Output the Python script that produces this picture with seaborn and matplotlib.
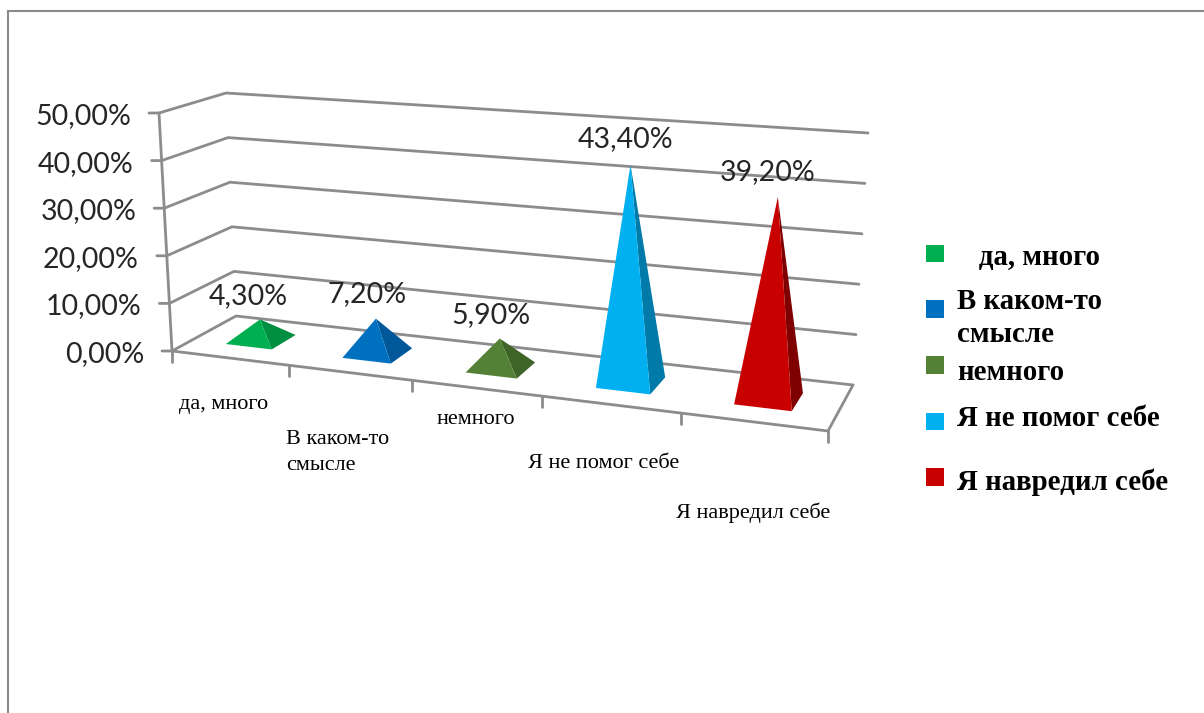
import numpy as np
import pandas as pd
import matplotlib
matplotlib.use("Agg")
import matplotlib.pyplot as plt
from matplotlib.patches import Polygon
import seaborn as sns

# Chart data
categories = ["да, много", "В каком-то\nсмысле", "немного", "Я не помог себе", "Я навредил себе"]
legend_labels = ["   да, много", "В каком-то\nсмысле", "немного", "Я не помог себе", "Я навредил себе"]
values = [4.3, 7.2, 5.9, 43.4, 39.2]
value_labels = ["4,30%", "7,20%", "5,90%", "43,40%", "39,20%"]
axis_ticks = [0, 10, 20, 30, 40, 50]
axis_labels = ["0,00%", "10,00%", "20,00%", "30,00%", "40,00%", "50,00%"]
front_colors = ["#00B050", "#0070C0", "#538135", "#00B0F0", "#C80000"]
side_colors = ["#008F40", "#00589A", "#3F6428", "#007AA8", "#7E0000"]

# Corners of the chart box on the canvas (front-left, front-right, back-right, back-left)
FLOOR = [(172, 351), (828, 431), (853, 385), (236, 316)]
CEILING = [(159, 113), (852, 162), (868, 133), (226, 93)]
VMAX = 50
N = len(categories)
BASE_WIDTH = 0.40   # share of a category slot
BASE_DEPTH = (0.30, 0.70)


def homography(quad):
    # Perspective map from the unit square onto a quadrilateral
    src = [(0, 0), (1, 0), (1, 1), (0, 1)]
    rows, rhs = [], []
    for (u, d), (x, y) in zip(src, quad):
        rows.append([u, d, 1, 0, 0, 0, -u * x, -d * x])
        rows.append([0, 0, 0, u, d, 1, -u * y, -d * y])
        rhs += [x, y]
    return np.append(np.linalg.solve(np.array(rows, float), np.array(rhs, float)), 1).reshape(3, 3)


H_FLOOR, H_CEIL = homography(FLOOR), homography(CEILING)


def apply(h, u, d):
    p = h @ np.array([u, d, 1.0])
    return p[:2] / p[2]


def project(slot, depth, value):
    # slot: category-axis position (0..N), depth: 0 front..1 back, value: percent
    u = slot / N
    return (1 - value / VMAX) * apply(H_FLOOR, u, depth) + value / VMAX * apply(H_CEIL, u, depth)


sns.set_theme(style="white")
fig = plt.figure(figsize=(12.04, 7.13), dpi=100, facecolor="white")
ax = fig.add_axes([0, 0, 1, 1])
ax.set_xlim(0, 1204)
ax.set_ylim(713, 0)
ax.axis("off")

GREY = "#8C8C8C"

# Outer frame of the chart area: left and top edges only
frame = pd.DataFrame({"x": [8, 8, 1204], "y": [713, 11, 11]})
ax.plot(frame.x, frame.y, color="#8A8A8A", lw=1.5, solid_joinstyle="miter")

# Wall gridlines, floor outline and ticks collected as line segments
segments = []


def add_line(points):
    sid = len(segments)
    segments.append(pd.DataFrame({"x": [p[0] for p in points], "y": [p[1] for p in points],
                                  "order": range(len(points)), "sid": sid}))


for t in axis_ticks:
    add_line([project(0, 0, t) + np.array([-10, 0]), project(0, 0, t),
              project(0, 1, t), project(N, 1, t)])
add_line([project(0, 0, 0), project(0, 0, VMAX)])
add_line([project(0, 0, 0), project(N, 0, 0), project(N, 1, 0)])
for i in range(N + 1):
    add_line([project(i, 0, 0), project(i, 0, 0) + np.array([0, 11])])

lines = pd.concat(segments, ignore_index=True)
sns.lineplot(data=lines, x="x", y="y", units="sid", estimator=None, sort=False, color=GREY,
             lw=2.0, ax=ax, legend=False, zorder=2)
ax.set_xlim(0, 1204)
ax.set_ylim(713, 0)

# Pyramids: one front face and one right face, each from its value
half = BASE_WIDTH / 2
for i, v in enumerate(values):
    c = i + 0.5
    fl = project(c - half, BASE_DEPTH[0], 0)
    fr = project(c + half, BASE_DEPTH[0], 0)
    br = project(c + half, BASE_DEPTH[1], 0)
    apex = project(c, sum(BASE_DEPTH) / 2, v)
    ax.add_patch(Polygon([fr, br, apex], closed=True, fc=side_colors[i], ec="none", zorder=3))
    ax.add_patch(Polygon([fl, fr, apex], closed=True, fc=front_colors[i], ec="none", zorder=4))

# Value labels sit above the pyramids
label_xy = [(248, 296), (367, 294), (491, 315), (626, 139), (768, 172)]
for (x, y), s in zip(label_xy, value_labels):
    ax.text(x, y, s, family="Lato", fontsize=20.5, color="#262626", ha="center", va="center", zorder=5)

# Value axis labels
for t, s in zip(axis_ticks, axis_labels):
    p = project(0, 0, t)
    ax.text(p[0] - 28, p[1] + 3, s, family="Lato", fontsize=20.5, color="#262626", ha="right", va="center")

# Category labels are staggered below the floor
cat_xy = [(179, 405), (286, 452), (437, 419), (528, 463), (676, 513)]
for (x, y), s in zip(cat_xy, categories):
    ax.text(x, y, s, family="Liberation Serif", fontsize=16, color="black", ha="left", va="center",
            linespacing=1.5)

# Legend drawn by hand because of its uneven spacing
swatches = pd.DataFrame({"x": [935, 935, 935, 935, 935], "y": [253.5, 309, 365, 421.5, 477], "name": categories})
sns.scatterplot(data=swatches, x="x", y="y", hue="name", palette=front_colors, marker="s", s=150,
                linewidth=0, ax=ax, legend=False, zorder=5)
ax.set_xlim(0, 1204)
ax.set_ylim(713, 0)
legend_xy = [(957, 258), (957, 318), (957, 373), (957, 418), (957, 482)]
for (x, y), s in zip(legend_xy, legend_labels):
    ax.text(x, y, s, family="Liberation Serif", fontweight="bold", fontsize=20.8, color="black",
            ha="left", va="center", linespacing=1.3)

fig.savefig("out.png", dpi=100, facecolor="white")
